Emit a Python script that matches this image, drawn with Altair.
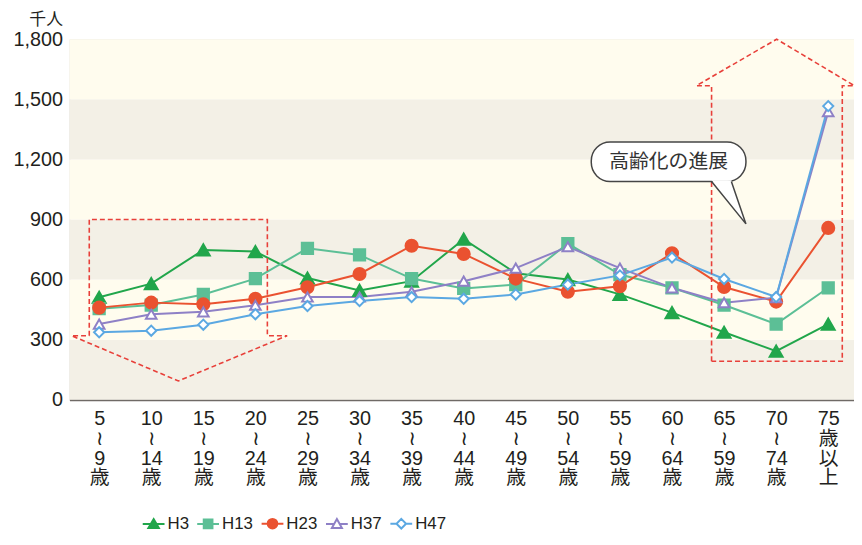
import json
import altair as alt
import pandas as pd

# ---------------- data ----------------
series = ["H3", "H13", "H23", "H37", "H47"]
age_labels = [
    ["5", "≀", "9", "歳"], ["10", "≀", "14", "歳"], ["15", "≀", "19", "歳"],
    ["20", "≀", "24", "歳"], ["25", "≀", "29", "歳"], ["30", "≀", "34", "歳"],
    ["35", "≀", "39", "歳"], ["40", "≀", "44", "歳"], ["45", "≀", "49", "歳"],
    ["50", "≀", "54", "歳"], ["55", "≀", "59", "歳"], ["60", "≀", "64", "歳"],
    ["65", "≀", "59", "歳"], ["70", "≀", "74", "歳"], ["75", "歳", "以", "上"],
]
h3 = [512, 580, 748, 740, 608, 546, 592, 802, 632, 600, 526, 435, 337, 243, 378]
h13 = [455, 473, 526, 605, 756, 723, 605, 556, 575, 780, 625, 559, 473, 378, 559]
h23 = [460, 485, 477, 504, 562, 628, 769, 728, 605, 539, 567, 731, 563, 490, 858]
h37 = [378, 427, 439, 472, 513, 513, 539, 592, 657, 764, 657, 559, 485, 510, 1438]
h47 = [337, 345, 375, 427, 468, 493, 513, 504, 526, 575, 621, 710, 603, 513, 1466]
y_ticks = [0, 300, 600, 900, 1200, 1500, 1800]

# annotation shapes (data coordinates: x = age-group index, y = 千人)
down_arrow_x = [-0.19, -0.19, 3.23, 3.23, 3.61, 1.52, -0.53, -0.19]
down_arrow_y = [320, 900, 900, 320, 320, 94, 320, 320]
up_arrow_x = [11.76, 11.76, 11.47, 13.01, 14.50, 14.27, 14.27, 11.76]
up_arrow_y = [192, 1568, 1568, 1800, 1568, 1568, 192, 192]
bubble_x = [9.45, 12.42]
bubble_y = [1090, 1287]
tail_x = [11.76, 12.42, 12.14]
tail_y = [1090, 878, 1090]
callout_text = "高齢化の進展"

# ---------------- styles ----------------
W, H = 792, 364
colors = ["#21a64b", "#5cbf96", "#ea5230", "#8e80c6", "#5ba8e2"]
fills = ["#21a64b", "#5cbf96", "#ea5230", "#ffffff", "#ffffff"]
shapes = ["triangle-up", "square", "circle", "triangle-up", "diamond"]
sizes = [170, 130, 150, 115, 105]
legend_paths = [
    "M-1,0H1M0,-0.46L0.48,0.36L-0.48,0.36Z",
    "M-1,0H1M-0.4,-0.4H0.4V0.4H-0.4Z",
    "M-1,0H1M-0.44,0A0.44,0.44,0,1,1,0.44,0A0.44,0.44,0,1,1,-0.44,0Z",
    "M-1,0H-0.3M0.3,0H1M0,-0.46L0.46,0.36L-0.46,0.36Z",
    "M-1,0H-0.44M0.44,0H1M0,-0.44L0.44,0L0,0.44L-0.44,0Z",
]
FONT = "Liberation Sans Narrow, Liberation Sans, DejaVu Sans, Noto Sans CJK JP"
TXT = "#231f20"
RED = "#e8403a"

values = [h3, h13, h23, h37, h47]
rows = []
for s, vals in zip(series, values):
    for i, v in enumerate(vals):
        rows.append({"series": s, "idx": i, "value": v})
df = pd.DataFrame(rows)

x_dom = [-0.571, 14.495]
xs = alt.Scale(domain=x_dom, nice=False, zero=False)
ys = alt.Scale(domain=[0, 1800], nice=False)

label_expr = json.dumps(age_labels, ensure_ascii=False) + "[round(datum.value)]"

x_axis = alt.Axis(values=list(range(15)), labelExpr=label_expr, title=None, grid=False,
                  ticks=False, tickSize=0, domainColor="#6f6a66", domainWidth=2,
                  labelFont=FONT, labelFontSize=20, labelColor=TXT, labelLineHeight=20,
                  labelPadding=9, labelBaseline="top", labelFlush=False, labelOverlap=False)
y_axis = alt.Axis(values=y_ticks, format=",d", title="千人", titleAngle=0, titleX=-7, titleY=-11,
                  titleAlign="right", titleBaseline="bottom", titleFont=FONT, titleFontSize=17,
                  titleFontWeight="normal", titleColor=TXT, grid=False, ticks=False, domain=False,
                  labelFont=FONT, labelFontSize=20, labelColor=TXT, labelPadding=7)

leg = alt.Legend(title=None, orient="none", legendX=73, legendY=477, direction="horizontal",
                 symbolSize=484, symbolStrokeWidth=2, labelFont=FONT, labelFontSize=17,
                 labelColor=TXT, columnPadding=4, labelOffset=2)
# legend source layer (drawn first, hidden beneath the background)
legend_layer = alt.Chart(df).mark_point(opacity=1, strokeWidth=2, size=4).encode(
    x=alt.X("idx:Q", scale=xs, axis=x_axis),
    y=alt.Y("value:Q", scale=ys, axis=y_axis),
    shape=alt.Shape("series:N", scale=alt.Scale(domain=series, range=legend_paths), legend=leg),
    stroke=alt.Stroke("series:N", scale=alt.Scale(domain=series, range=colors), legend=leg),
    fill=alt.Fill("series:N", scale=alt.Scale(domain=series, range=fills), legend=leg),
)

# background bands
bands = pd.DataFrame({"y0": y_ticks[:-1], "y1": y_ticks[1:], "k": list(range(len(y_ticks) - 1))})
bg = alt.Chart(bands).mark_rect().encode(
    x=alt.value(0), x2=alt.value(W),
    y=alt.Y("y0:Q", scale=ys), y2="y1:Q",
    fill=alt.condition("datum.k % 2 == 0", alt.value("#f3f0e6"), alt.value("#fffcee")),
)

base = alt.Chart(df).encode(
    x=alt.X("idx:Q", scale=xs),
    y=alt.Y("value:Q", scale=ys),
)
lines = base.mark_line(strokeWidth=2).encode(
    color=alt.Color("series:N", scale=alt.Scale(domain=series, range=colors), legend=None),
    detail="series:N",
)
point_layers = []
for s, c, f, sh, sz in zip(series, colors, fills, shapes, sizes):
    point_layers.append(
        base.transform_filter(alt.datum.series == s).mark_point(
            shape=sh, size=sz, filled=True, fill=f, stroke=c, strokeWidth=2, opacity=1
        )
    )

# annotations
arrows_df = pd.DataFrame(
    [{"g": "down", "i": i, "x": x, "y": y} for i, (x, y) in enumerate(zip(down_arrow_x, down_arrow_y))]
    + [{"g": "up", "i": i, "x": x, "y": y} for i, (x, y) in enumerate(zip(up_arrow_x, up_arrow_y))]
)
arrows = alt.Chart(arrows_df).mark_line(color=RED, strokeWidth=1.6, strokeDash=[5, 3]).encode(
    x=alt.X("x:Q", scale=xs), y=alt.Y("y:Q", scale=ys), detail="g:N", order="i:Q"
)

bubble_df = pd.DataFrame({"x0": [bubble_x[0]], "x1": [bubble_x[1]], "y0": [bubble_y[0]], "y1": [bubble_y[1]]})
bubble = alt.Chart(bubble_df).mark_rect(cornerRadius=19, fill="white", stroke="#454545", strokeWidth=1.5).encode(
    x=alt.X("x0:Q", scale=xs), x2="x1:Q", y=alt.Y("y0:Q", scale=ys), y2="y1:Q"
)
tail_x_sorted = [tail_x[0], tail_x[2], tail_x[1]]
t = (tail_x[2] - tail_x[0]) / (tail_x[1] - tail_x[0])
mid_y = tail_y[0] + t * (tail_y[1] - tail_y[0])
tail_area_df = pd.DataFrame({"x": tail_x_sorted, "y": [tail_y[0] + 6, tail_y[2] + 6, tail_y[1]],
                             "y2": [tail_y[0] + 6, mid_y, tail_y[1]]})
tail_area = alt.Chart(tail_area_df).mark_area(color="white", opacity=1).encode(
    x=alt.X("x:Q", scale=xs), y=alt.Y("y:Q", scale=ys), y2="y2:Q"
)
tail_df = pd.DataFrame({"x": tail_x, "y": tail_y, "i": [0, 1, 2]})
tail_line = alt.Chart(tail_df).mark_line(color="#454545", strokeWidth=1.5).encode(
    x=alt.X("x:Q", scale=xs), y=alt.Y("y:Q", scale=ys), order="i:Q"
)
text_df = pd.DataFrame({"x": [sum(bubble_x) / 2], "y": [sum(bubble_y) / 2], "t": [callout_text]})
callout = alt.Chart(text_df).mark_text(font=FONT, fontSize=20, color="#333333", baseline="middle").encode(
    x=alt.X("x:Q", scale=xs), y=alt.Y("y:Q", scale=ys), text="t:N"
)

chart = alt.layer(
    legend_layer, bg, lines, *point_layers, arrows, bubble, tail_area, tail_line, callout
).properties(
    width=W, height=H,
    autosize=alt.AutoSizeParams(type="none"),
    padding={"left": 62, "top": 29, "right": 0, "bottom": 134},
).configure_view(stroke=None).configure(background="white")

chart.save("out.html", embed_options={"renderer": "svg", "actions": False})
